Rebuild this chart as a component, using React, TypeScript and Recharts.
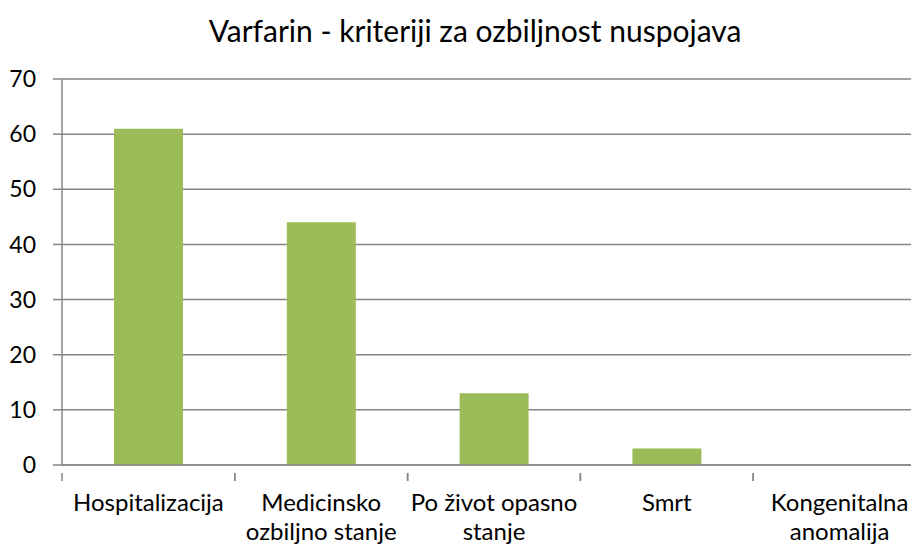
import React from "react";
import { BarChart, Bar, XAxis, YAxis, CartesianGrid } from "recharts";

const categories = [
  "Hospitalizacija",
  "Medicinsko\nozbiljno stanje",
  "Po život opasno\nstanje",
  "Smrt",
  "Kongenitalna\nanomalija",
];
const values = [61, 44, 13, 3, 0];
const yTicks = [0, 10, 20, 30, 40, 50, 60, 70];
const title = "Varfarin - kriteriji za ozbiljnost nuspojava";

const data = categories.map((name, i) => ({ name, value: values[i] }));

const CHART_W = 930;
const CHART_H = 544;
const M_LEFT = 0;
const Y_W = 62;
const M_RIGHT = 4;
const BAND = (CHART_W - M_LEFT - Y_W - M_RIGHT) / categories.length;
const FONT = "Lato, 'Open Sans', sans-serif";
const AXIS = "#868686";

const XTick = (props: any) => {
  const { x, y, payload } = props;
  const lines = String(payload.value).split("\n");
  const left = x - BAND / 2;
  return (
    <g>
      <line x1={left} y1={y} x2={left} y2={y + 8} stroke={AXIS} strokeWidth={1.5} />
      <line x1={left + BAND} y1={y} x2={left + BAND} y2={y + 8} stroke={AXIS} strokeWidth={1.5} />
      <text x={x} y={y + 38} textAnchor="middle" fontFamily={FONT} fontSize={24} fill="#000">
        {lines.map((l, i) => (
          <tspan key={i} x={x} dy={i === 0 ? 0 : 29}>
            {l}
          </tspan>
        ))}
      </text>
    </g>
  );
};

export default function App() {
  return (
    <div
      style={{
        position: "relative",
        marginLeft: -8,
        marginTop: -8,
        width: 919,
        height: 544,
        overflow: "hidden",
        background: "#fff",
      }}
    >
      <div
        style={{
          position: "absolute",
          left: 0,
          top: 12,
          width: 950,
          textAlign: "center",
          fontFamily: FONT,
          fontSize: 30,
          color: "#000",
          lineHeight: "36px",
        }}
      >
        {title}
      </div>
      <BarChart
        width={CHART_W}
        height={CHART_H}
        data={data}
        margin={{ top: 79, right: M_RIGHT, bottom: 0, left: M_LEFT }}
      >
        <CartesianGrid vertical={false} stroke={AXIS} strokeWidth={1.5} />
        <XAxis
          dataKey="name"
          interval={0}
          height={79}
          tickLine={false}
          axisLine={{ stroke: AXIS, strokeWidth: 1.5 }}
          tick={<XTick />}
        />
        <YAxis
          width={Y_W}
          domain={[0, 70]}
          ticks={yTicks}
          tickSize={9}
          tickMargin={17}
          axisLine={{ stroke: AXIS, strokeWidth: 1.5 }}
          tickLine={{ stroke: AXIS, strokeWidth: 1.5 }}
          tick={{ fontFamily: FONT, fontSize: 23, fill: "#000" }}
        />
        <Bar dataKey="value" fill="#9BBB59" barSize={69} isAnimationActive={false} />
      </BarChart>
    </div>
  );
}
